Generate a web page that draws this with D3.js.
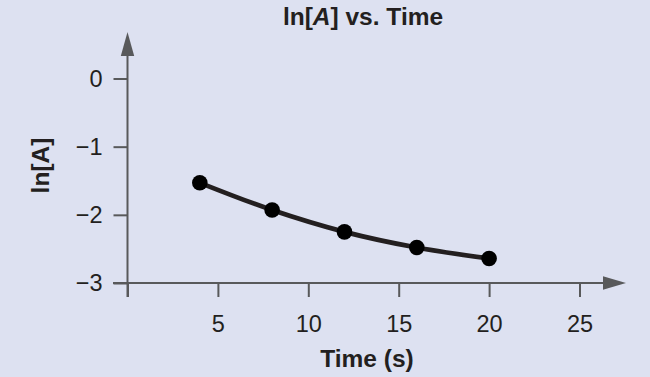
<!DOCTYPE html>
<html><head><meta charset="utf-8">
<script src="https://cdn.jsdelivr.net/npm/d3@7"></script>
<style>
html,body{margin:0;padding:0;background:#dde1f1;}
svg{display:block;font-family:"Liberation Sans",Arial,sans-serif;}
</style></head>
<body><svg id="c" width="650" height="377"></svg>
<script>
const times = [4, 8, 12, 16, 20];
const lnA = [-1.53, -1.93, -2.25, -2.48, -2.64];
const xTicks = [5, 10, 15, 20, 25];
const yTicks = [0, -1, -2, -3];
const titleText = ["ln[", "A", "] vs. Time"];
const xTitle = "Time (s)";
const yTitle = "ln[A]";

const svg = d3.select("#c");
svg.append("rect").attr("width",650).attr("height",377).attr("fill","#dde1f1");

const x = d3.scaleLinear().domain([0,25]).range([127.5,579.5]);
const y = d3.scaleLinear().domain([-3,0]).range([283,78.5]);
const axisColor = "#58595b";

// x axis
const xg = svg.append("g").attr("transform",`translate(0,${y(-3)})`);
xg.call(d3.axisBottom(x).tickValues([0].concat(xTicks)).tickSize(14).tickPadding(18)
  .tickFormat(d => d===0 ? "" : d));
xg.select(".domain").remove();
xg.selectAll(".tick line").attr("stroke",axisColor).attr("stroke-width",2);
xg.selectAll(".tick text").attr("fill","#231f20").attr("font-size",23.5).attr("font-family","Liberation Sans, Arial, sans-serif");
xg.append("line").attr("x1",113).attr("x2",606).attr("y1",0).attr("y2",0).attr("stroke",axisColor).attr("stroke-width",2);
xg.append("path").attr("d","M603,-6.7 L626,0 L603,6.7 Z").attr("fill",axisColor);

// y axis
const yg = svg.append("g").attr("transform",`translate(${x(0)},0)`);
yg.call(d3.axisLeft(y).tickValues(yTicks).tickSize(14).tickPadding(11)
  .tickFormat(d => d<0 ? "\u2212"+Math.abs(d) : d));
yg.select(".domain").remove();
yg.selectAll(".tick line").attr("stroke",axisColor).attr("stroke-width",2);
yg.selectAll(".tick text").attr("fill","#231f20").attr("font-size",23.5).attr("font-family","Liberation Sans, Arial, sans-serif");
yg.append("line").attr("x1",0).attr("x2",0).attr("y1",297).attr("y2",52).attr("stroke",axisColor).attr("stroke-width",2);
yg.append("path").attr("d","M-6.7,56 L0,32 L6.7,56 Z").attr("fill",axisColor);

// line + points
const pts = times.map((t,i)=>[t,lnA[i]]);
svg.append("path").datum(pts)
  .attr("d", d3.line().x(d=>x(d[0])).y(d=>y(d[1])).curve(d3.curveMonotoneX))
  .attr("fill","none").attr("stroke","#231f20").attr("stroke-width",4.7);
svg.selectAll("circle.pt").data(pts).enter().append("circle")
  .attr("cx",d=>x(d[0])).attr("cy",d=>y(d[1])).attr("r",7.8).attr("fill","#000");

// titles
const t = svg.append("text").attr("x",363).attr("y",25).attr("text-anchor","middle")
  .attr("font-size",24.5).attr("font-weight","bold").attr("fill","#231f20");
titleText.forEach((s,i)=>t.append("tspan").text(s).attr("font-style", i===1?"italic":"normal"));
svg.append("text").attr("x",367).attr("y",367).attr("text-anchor","middle")
  .attr("font-size",24.5).attr("font-weight","bold").attr("fill","#231f20").text(xTitle);
svg.append("text").attr("transform","translate(49,165.5) rotate(-90)").attr("text-anchor","middle")
  .attr("font-size",24.5).attr("font-weight","bold").attr("fill","#231f20").text(yTitle);
</script></body></html>
